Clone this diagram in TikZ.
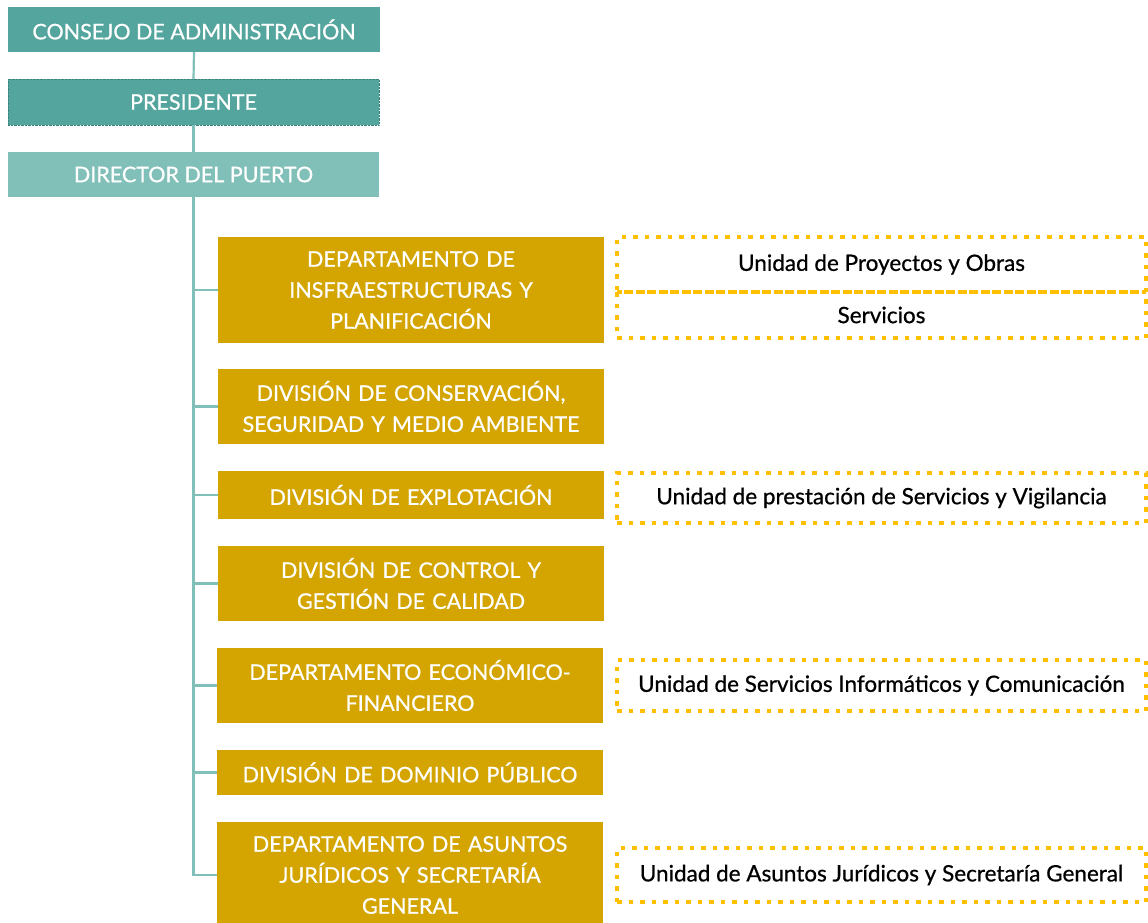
\documentclass[tikz,border=0pt]{standalone}
\usepackage{fontspec}
\setmainfont{Lato}
\newfontfamily\medfont[FakeBold=0.7]{Lato}
\begin{document}
\begin{tikzpicture}[x=1pt,y=-1pt,
  topbox/.style={rectangle, fill=tealA, text=white, inner sep=0pt, minimum width=372pt, minimum height=45pt, font=\medfont\fontsize{21.5}{30}\selectfont},
  goldbox/.style={rectangle, fill=goldA, text=white, inner sep=0pt, minimum width=386pt, text width=380pt, align=center, font=\medfont\fontsize{21.5}{31}\selectfont},
  unitbox/.style={rectangle, draw=yellowA, line width=4.5pt, dash pattern=on 4.5pt off 7pt, inner sep=0pt, minimum width=529pt, text=black, font=\medfont\fontsize{22.5}{24}\selectfont},
  conn/.style={draw=tealL, line width=2.2pt}
]
\definecolor{tealA}{RGB}{84,165,157}
\definecolor{tealL}{RGB}{129,192,184}
\definecolor{tealD}{RGB}{60,130,124}
\definecolor{goldA}{RGB}{212,165,0}
\definecolor{yellowA}{RGB}{255,192,0}
\useasboundingbox (0,0) rectangle (1148,923);
\fill[white] (0,0) rectangle (1148,923);

% top hierarchy
\node[topbox] (consejo) at (194,29.5) {CONSEJO DE ADMINISTRACIÓN};
\node[topbox, minimum width=371pt, minimum height=46pt, draw=tealD, densely dotted, line width=0.4pt] (presidente) at (193.5,102) {PRESIDENTE};
\node[topbox, fill=tealL, minimum width=371pt] (director) at (193.5,174.5) {DIRECTOR DEL PUERTO};

% gold boxes
\node[goldbox, minimum height=106pt] (b1) at (411,290) {DEPARTAMENTO DE\\INSFRAESTRUCTURAS Y\\PLANIFICACIÓN};
\node[goldbox, minimum height=75pt] (b2) at (411,406.5) {DIVISIÓN DE CONSERVACIÓN,\\SEGURIDAD Y MEDIO AMBIENTE};
\node[goldbox, minimum height=48pt] (b3) at (411,495) {DIVISIÓN DE EXPLOTACIÓN};
\node[goldbox, minimum height=75pt] (b4) at (411,583.5) {DIVISIÓN DE CONTROL Y\\GESTIÓN DE CALIDAD};
\node[goldbox, minimum height=75pt] (b5) at (410,685.5) {DEPARTAMENTO ECONÓMICO-\\FINANCIERO};
\node[goldbox, minimum height=45pt] (b6) at (410,772.5) {DIVISIÓN DE DOMINIO PÚBLICO};
\node[goldbox, minimum height=106pt] (b7) at (410,875) {DEPARTAMENTO DE ASUNTOS\\JURÍDICOS Y SECRETARÍA\\GENERAL};

% unit boxes
\node[unitbox, minimum height=55pt] (u1) at (881.5,264.5) {\raisebox{-2pt}{Unidad de Proyectos y Obras}};
\node[unitbox, minimum height=46pt] (u2) at (881.5,315) {\raisebox{-2pt}{Servicios}};
\node[unitbox, minimum height=50pt] (u3) at (881.5,498) {Unidad de prestación de Servicios y Vigilancia};
\node[unitbox, minimum height=51pt] (u4) at (881.5,685.5) {Unidad de Servicios Informáticos y Comunicación};
\node[unitbox, minimum height=54pt] (u5) at (881.5,875) {Unidad de Asuntos Jurídicos y Secretaría General};

% connectors
\draw[conn] (consejo.south) -- (presidente.north);
\draw[conn] (presidente.south) -- (director.north);
\foreach \b in {b1,b2,b3,b4,b5,b6,b7}
  \draw[conn] (director.south) |- (\b.west);
\end{tikzpicture}
\end{document}
